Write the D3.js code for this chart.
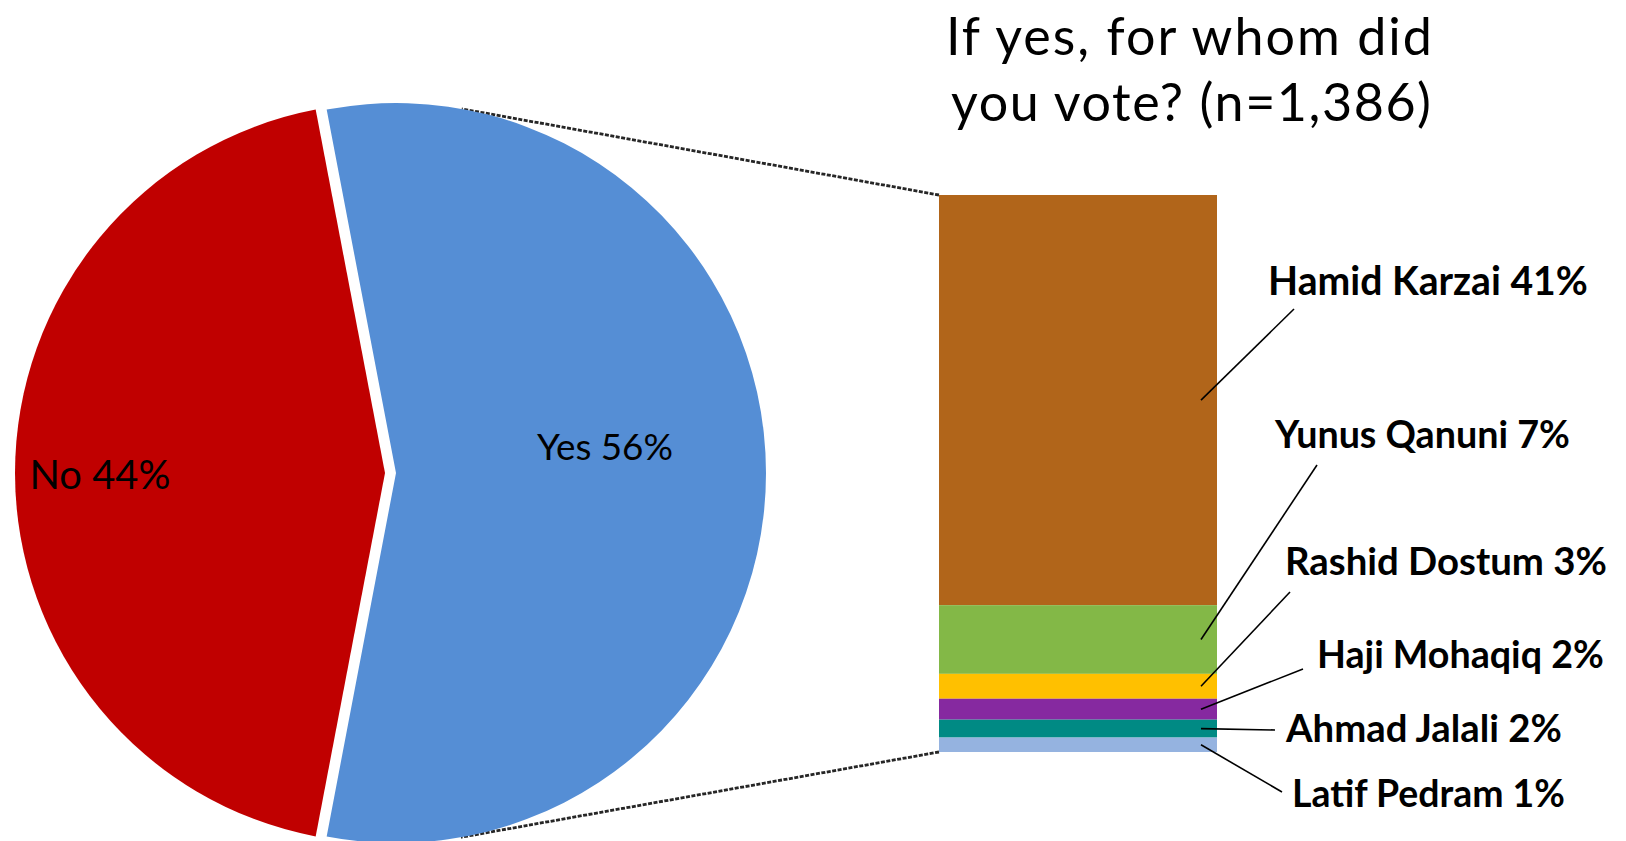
<!DOCTYPE html>
<html>
<head>
<meta charset="utf-8">
<script src="https://cdn.jsdelivr.net/npm/d3@7"></script>
<style>
  html, body { margin: 0; padding: 0; background: #fff; }
  svg { display: block; }
</style>
</head>
<body>
<svg id="chart" width="1626" height="841"></svg>
<script>
// ---------- DATA ----------
const pieCategories = ["Yes", "No"];
const pieValues = [56, 44];
const pieLabels = ["Yes 56%", "No 44%"];
const pieColors = ["#558ED5", "#C00000"];

const candidates = ["Hamid Karzai", "Yunus Qanuni", "Rashid Dostum", "Haji Mohaqiq", "Ahmad Jalali", "Latif Pedram"];
const candidateValues = [41.2, 6.9, 2.5, 2.1, 1.8, 1.45];
const candidateLabels = ["41%", "7%", "3%", "2%", "2%", "1%"];
const barColors = ["#B1651A", "#83B847", "#FFC000", "#8629A0", "#008A84", "#95B3E0"];

const titleLines = ["If yes, for whom did", "you vote? (n=1,386)"];

// ---------- LAYOUT ----------
const W = 1626, H = 841;
const pieCx = 396, pieCy = 473, pieR = 370;
const explode = [0, 11];                 // px offset of each slice along its bisector
const pieLabelPos = [ {x: 537, y: 460, w: 136}, {x: 29.5, y: 489, w: 141} ];
const barX0 = 939, barX1 = 1217, barTop = 195, barBottom = 752;
// label anchor (start x, baseline), target width, outer end of leader line
const labelLayout = [
  {x: 1268, y: 295, w: 320, lx: 1294, ly: 309},
  {x: 1275, y: 448, w: 295, lx: 1317, ly: 465},
  {x: 1285, y: 575, w: 322, lx: 1290, ly: 592},
  {x: 1317, y: 668, w: 287, lx: 1303, ly: 669},
  {x: 1286, y: 742, w: 276, lx: 1275, ly: 730},
  {x: 1292, y: 807, w: 273, lx: 1282, ly: 792}
];
const titleLayout = [ {x: 946, y: 55, w: 486}, {x: 951, y: 121, w: 480} ];
const titleSize = 52;
const FONT = "Lato, 'Open Sans', sans-serif";

const svg = d3.select("#chart");

function fitWidth(sel, target) {
  const w = sel.node().getComputedTextLength();
  const fs = parseFloat(sel.attr("font-size"));
  if (w > 0) sel.attr("font-size", fs * target / w);
}
function fitSpacing(sel, target) {
  const w = sel.node().getComputedTextLength();
  const n = sel.text().length;
  if (w > 0 && n > 1) sel.attr("letter-spacing", (target - w) / (n - 1));
}

// ---------- CONNECTOR LINES (tangents from bar corners to pie circle) ----------
function tangentPoint(px, py, upper) {
  const dx = pieCx - px, dy = pieCy - py;
  const d = Math.hypot(dx, dy);
  const base = Math.atan2(dy, dx);
  const a = Math.asin(pieR / d);
  const L = Math.sqrt(d * d - pieR * pieR);
  const ang = upper ? base + a : base - a;
  return [px + L * Math.cos(ang), py + L * Math.sin(ang)];
}
const corners = [[barX0, barTop, true], [barX0, barBottom, false]];
svg.append("g").selectAll("line").data(corners).join("line")
  .attr("x1", d => d[0]).attr("y1", d => d[1])
  .attr("x2", d => tangentPoint(d[0], d[1], d[2])[0])
  .attr("y2", d => tangentPoint(d[0], d[1], d[2])[1])
  .attr("stroke", "#262626").attr("stroke-width", 2.8)
  .attr("stroke-dasharray", "4 1.5");

// ---------- PIE ----------
const yesFrac = pieValues[0] / d3.sum(pieValues);
const start = Math.PI / 2 - yesFrac * Math.PI;
const pie = d3.pie().sort(null).startAngle(start).endAngle(start + 2 * Math.PI);
const arcs = pie(pieValues);
const arc = d3.arc().innerRadius(0).outerRadius(pieR);

const pieG = svg.append("g").attr("transform", `translate(${pieCx},${pieCy})`);
pieG.selectAll("path").data(arcs).join("path")
  .attr("d", arc)
  .attr("fill", (d, i) => pieColors[i])
  .attr("transform", (d, i) => {
    const mid = (d.startAngle + d.endAngle) / 2;
    return `translate(${explode[i] * Math.sin(mid)},${-explode[i] * Math.cos(mid)})`;
  });

svg.append("g").selectAll("text").data(pieLabels).join("text")
  .attr("x", (d, i) => pieLabelPos[i].x)
  .attr("y", (d, i) => pieLabelPos[i].y)
  .attr("font-family", FONT).attr("font-size", 38)
  .attr("fill", "#000")
  .text(d => d)
  .each(function(d, i) { fitWidth(d3.select(this), pieLabelPos[i].w); });

// ---------- STACKED BAR ----------
const total = d3.sum(candidateValues);
const y = d3.scaleLinear().domain([0, total]).range([barTop, barBottom]);
const cum = Array.from(d3.cumsum(candidateValues));
const segs = candidateValues.map((v, i) => ({
  name: candidates[i], v0: i === 0 ? 0 : cum[i - 1], v1: cum[i], i
}));

svg.append("g").selectAll("rect").data(segs).join("rect")
  .attr("x", barX0)
  .attr("width", barX1 - barX0)
  .attr("y", d => y(d.v0))
  .attr("height", d => y(d.v1) - y(d.v0))
  .attr("fill", d => barColors[d.i]);

// leader lines
svg.append("g").selectAll("line").data(segs).join("line")
  .attr("x1", barX1 - 16)
  .attr("y1", d => (y(d.v0) + y(d.v1)) / 2)
  .attr("x2", d => labelLayout[d.i].lx)
  .attr("y2", d => labelLayout[d.i].ly)
  .attr("stroke", "#000").attr("stroke-width", 1.6);

// labels
svg.append("g").selectAll("text").data(segs).join("text")
  .attr("x", d => labelLayout[d.i].x)
  .attr("y", d => labelLayout[d.i].y)
  .attr("font-family", FONT).attr("font-weight", 700).attr("font-size", 37)
  .attr("fill", "#000")
  .text(d => `${d.name} ${candidateLabels[d.i]}`)
  .each(function(d) { fitWidth(d3.select(this), labelLayout[d.i].w); });

// ---------- TITLE ----------
svg.append("g").selectAll("text").data(titleLines).join("text")
  .attr("x", (d, i) => titleLayout[i].x)
  .attr("y", (d, i) => titleLayout[i].y)
  .attr("font-family", FONT).attr("font-size", titleSize)
  .attr("fill", "#000")
  .text(d => d)
  .each(function(d, i) { fitSpacing(d3.select(this), titleLayout[i].w); });
</script>
</body>
</html>
